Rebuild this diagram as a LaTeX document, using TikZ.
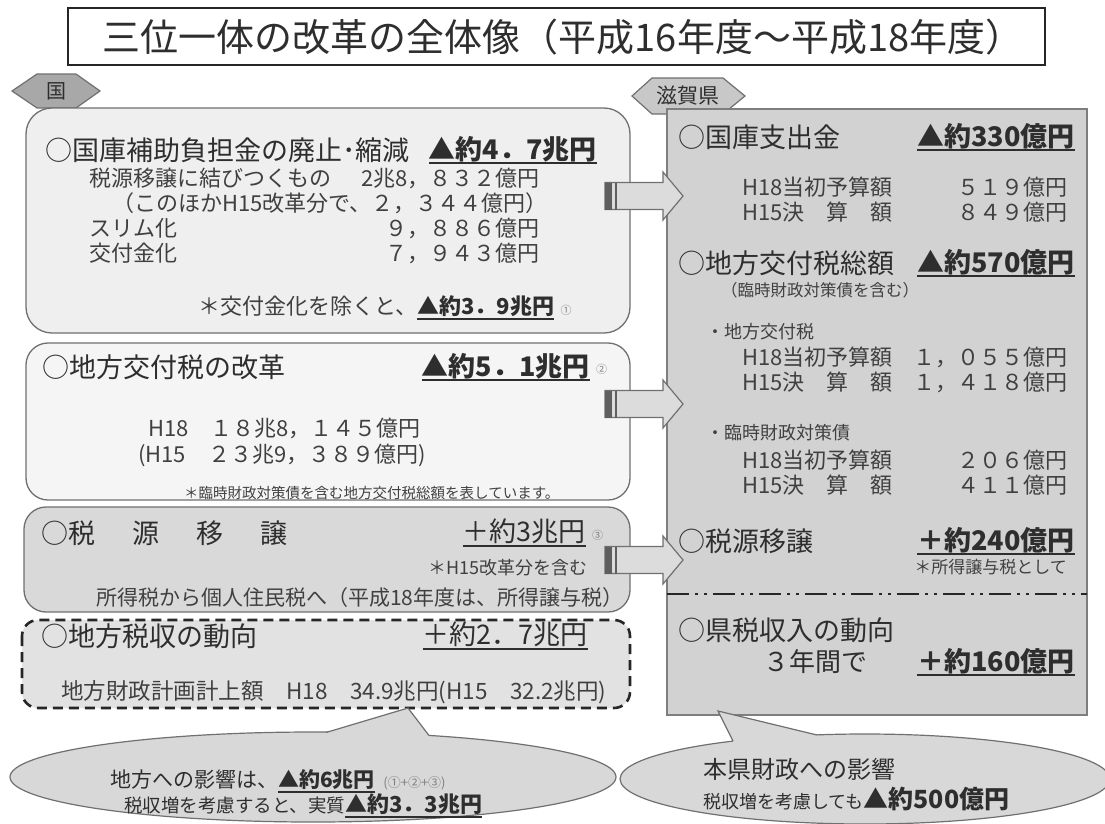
\documentclass[tikz,border=0pt]{standalone}
\usepackage{fontspec}
\setmainfont{Noto Sans CJK JP}
\newcommand\myul[1]{\leavevmode\setbox0\hbox{#1}\rlap{\rule[-5pt]{\wd0}{1.6pt}}\box0}
\newcommand\fs[1]{\fontsize{#1}{#1}\selectfont}
\definecolor{txt}{HTML}{2E2E2E}
\definecolor{subtxt}{HTML}{404040}
\definecolor{edge}{HTML}{707070}
\definecolor{boxa}{HTML}{EFEFEF}
\definecolor{boxb}{HTML}{F5F5F5}
\definecolor{boxc}{HTML}{D9D9D9}
\definecolor{boxd}{HTML}{E2E2E2}
\definecolor{rbox}{HTML}{D2D2D2}
\definecolor{ell}{HTML}{D8D8D8}
\definecolor{arr}{HTML}{DCDCDC}
\definecolor{stripe}{HTML}{5E5E5E}
\definecolor{hexa}{HTML}{A8A8A8}
\definecolor{hexb}{HTML}{C8C8C8}
\tikzset{
  hd/.style={anchor=west, inner sep=0pt, text=txt, font=\fs{27}},
  amt/.style={anchor=east, inner sep=0pt, text=txt, font=\fs{27}\bfseries},
  sub/.style={anchor=west, inner sep=0pt, text=subtxt, font=\fs{22}},
  subr/.style={anchor=east, inner sep=0pt, text=subtxt, font=\fs{22}},
  tiny/.style={anchor=west, inner sep=0pt, text=gray, font=\fs{11}},
  panel/.style={draw=edge, line width=1.3pt},
}
\newcommand\blockarrow[1]{%
  \filldraw[fill=arr, draw=edge, line width=1.2pt] (605,#1-13.5) -- (663,#1-13.5) -- (663,#1-24) -- (683,#1) -- (663,#1+24) -- (663,#1+13.5) -- (605,#1+13.5) -- cycle;
  \fill[stripe] (605,#1-13.5) rectangle (612,#1+13.5);
  \draw[stripe, line width=1.5pt] (616,#1-13.5) -- (616,#1+13.5);
}
\begin{document}
\begin{tikzpicture}[x=1pt,y=-1pt]
\useasboundingbox (0,0) rectangle (1105,823);
\fill[white] (0,0) rectangle (1105,823);

% title
\draw[line width=1.8pt, draw=black!85] (68,8) rectangle (1045,65);
\node[inner sep=0pt, text=txt, font=\fs{38}] (title) at (563,37) {三位一体の改革の全体像（平成16年度～平成18年度）};

% hex tags
\filldraw[fill=hexa, draw=edge, line width=1.2pt] (12,91) -- (37,74) -- (76,74) -- (100,91) -- (76,108) -- (37,108) -- cycle;
\node[inner sep=0pt, text=txt, font=\fs{20}] (kuni) at (56,91) {国};

% left panels
\filldraw[panel, fill=boxa, rounded corners=26pt] (26,108) rectangle (630,333);
\filldraw[panel, fill=boxb, rounded corners=22pt] (26,343) rectangle (630,500);
\filldraw[panel, fill=boxc, rounded corners=22pt] (24,507) rectangle (630,612);
\filldraw[fill=boxd, draw=black!85, line width=2.6pt, dash pattern=on 10pt off 6pt, rounded corners=16pt] (22,620) rectangle (630,708);

% right panel
\filldraw[fill=hexb, draw=edge, line width=1.2pt] (632,96) -- (652,78) -- (723,78) -- (745,96) -- (723,114) -- (652,114) -- cycle;
\node[inner sep=0pt, text=txt, font=\fs{21}] (shiga) at (688,96) {滋賀県};
\filldraw[fill=rbox, draw=edge!90, line width=1.5pt] (667,109) rectangle (1087,715);
\coordinate (dl) at (667,594);
\coordinate (dr) at (1087,594);
\draw[black!85, line width=2.6pt, dash pattern=on 22pt off 6pt on 3pt off 6pt on 3pt off 6pt] (dl) -- (dr);

% box 1 text
\node[hd] (h1) at (45,150) {○国庫補助負担金の廃止･縮減};
\node[amt] (a1) at (597,150) {\myul{▲約4．7兆円}};
\node[sub] (s11) at (89,178) {税源移譲に結びつくもの};
\node[subr] (n11) at (540,178) {2兆8，８３２億円};
\node[subr] (s12) at (548,203) {（このほかH15改革分で、２，３４４億円）};
\node[sub] (s13) at (89,228) {スリム化};
\node[subr] (n13) at (540,228) {９，８８６億円};
\node[sub] (s14) at (89,253) {交付金化};
\node[subr] (n14) at (540,253) {７，９４３億円};
\node[anchor=west, inner sep=0pt, text=subtxt, font=\fs{22}] (s15) at (198,308) {＊交付金化を除くと、\textcolor{txt}{\bfseries\myul{▲約3．9兆円}}};
\node[tiny, anchor=west] (c1) at ([xshift=6pt,yshift=-2pt]s15.east) {①};

% box 2 text
\node[hd] (h2) at (42,367) {○地方交付税の改革};
\node[amt] (a2) at (590,367) {\myul{▲約5．1兆円}};
\node[tiny] (c2) at ([xshift=6pt,yshift=-2pt]a2.east) {②};
\node[sub] (s21) at (148,428) {H18　１８兆8，１４５億円};
\node[sub] (s22) at (138,455) {(H15　２３兆9，３８９億円)};
\node[anchor=west, inner sep=0pt, text=subtxt, font=\fs{14.5}] (s23) at (184,493) {＊臨時財政対策債を含む地方交付税総額を表しています。};

% box 3 text
\node[hd] (h3) at (41,533) {○税\hspace{37pt}源\hspace{37pt}移\hspace{37pt}譲};
\node[amt, font=\fs{27}] (a3) at (586,533) {\myul{＋約3兆円}};
\node[tiny] (c3) at ([xshift=6pt,yshift=-2pt]a3.east) {③};
\node[anchor=east, inner sep=0pt, text=subtxt, font=\fs{18}] (s31) at (588,568) {＊H15改革分を含む};
\node[anchor=west, inner sep=0pt, text=subtxt, font=\fs{21}] (s32) at (96,598) {所得税から個人住民税へ（平成18年度は、所得譲与税）};

% box 4 text
\node[hd] (h4) at (41,636) {○地方税収の動向};
\node[amt, font=\fs{27}] (a4) at (588,636) {\myul{＋約2．7兆円}};
\node[anchor=west, inner sep=0pt, text=subtxt, font=\fs{22.5}] (s41) at (61,692) {地方財政計画計上額　H18　34.9兆円(H15　32.2兆円)};

% right panel text
\node[hd] (r1) at (678,137) {○国庫支出金};
\node[amt] (ra1) at (1075,137) {\myul{▲約330億円}};
\node[sub] (r11) at (742,187) {H18当初予算額};
\node[subr] (rn11) at (1068,187) {５１９億円};
\node[sub] (r12) at (742,212) {H15決　算　額};
\node[subr] (rn12) at (1068,212) {８４９億円};
\node[hd] (r2) at (678,263) {○地方交付税総額};
\node[amt] (ra2) at (1075,263) {\myul{▲約570億円}};
\node[anchor=west, inner sep=0pt, text=subtxt, font=\fs{16.5}] (r21) at (721,290) {（臨時財政対策債を含む）};
\node[anchor=west, inner sep=0pt, text=subtxt, font=\fs{18}] (r22) at (706,332) {・地方交付税};
\node[sub] (r23) at (742,357) {H18当初予算額};
\node[subr] (rn23) at (1068,357) {１，０５５億円};
\node[sub] (r24) at (742,382) {H15決　算　額};
\node[subr] (rn24) at (1068,382) {１，４１８億円};
\node[anchor=west, inner sep=0pt, text=subtxt, font=\fs{18}] (r25) at (706,433) {・臨時財政対策債};
\node[sub] (r26) at (742,460) {H18当初予算額};
\node[subr] (rn26) at (1068,460) {２０６億円};
\node[sub] (r27) at (742,485) {H15決　算　額};
\node[subr] (rn27) at (1068,485) {４１１億円};
\node[hd] (r3) at (678,541) {○税源移譲};
\node[amt] (ra3) at (1075,541) {\myul{＋約240億円}};
\node[anchor=east, inner sep=0pt, text=subtxt, font=\fs{17}] (r31) at (1067,567) {＊所得譲与税として};
\node[hd] (r4) at (678,630) {○県税収入の動向};
\node[anchor=west, inner sep=0pt, text=txt, font=\fs{26}] (r41) at (763,662) {３年間で};
\node[amt] (ra4) at (1075,662) {\myul{＋約160億円}};

% block arrows
\blockarrow{196}
\blockarrow{404}
\blockarrow{560}

% callout ellipses
\filldraw[fill=ell, draw=edge, line width=1.2pt] (313,777) ellipse [x radius=303pt, y radius=45pt];
\fill[ell] (326,732.5) -- (408,708) -- (429,735.5) -- (429,745) -- (326,745) -- cycle;
\draw[edge, line width=1.2pt] (326,732.5) -- (408,708) -- (429,735.5);
\filldraw[fill=ell, draw=edge, line width=1.2pt] (865,779) ellipse [x radius=245pt, y radius=45pt];
\fill[ell] (733,741) -- (718,711) -- (817,735) -- (817,748) -- (733,748) -- cycle;
\draw[edge, line width=1.2pt] (733,741) -- (718,711) -- (817,735);

\node[anchor=west, inner sep=0pt, text=txt, font=\fs{21}] (e1) at (110,781) {地方への影響は、\bfseries\myul{▲約6兆円}};
\node[tiny, font=\fs{13}] (e1c) at ([xshift=8pt,yshift=-2pt]e1.east) {(①+②+③)};
\node[anchor=west, inner sep=0pt, text=txt, font=\fs{18.5}] (e2) at (124,806) {税収増を考慮すると、実質\fs{22}\bfseries\myul{▲約3．3兆円}};
\node[anchor=west, inner sep=0pt, text=txt, font=\fs{24}] (e3) at (703,769) {本県財政への影響};
\node[anchor=west, inner sep=0pt, text=txt, font=\fs{18}] (e4) at (703,799) {税収増を考慮しても\fs{25}\bfseries ▲約500億円};
\end{tikzpicture}
\end{document}
